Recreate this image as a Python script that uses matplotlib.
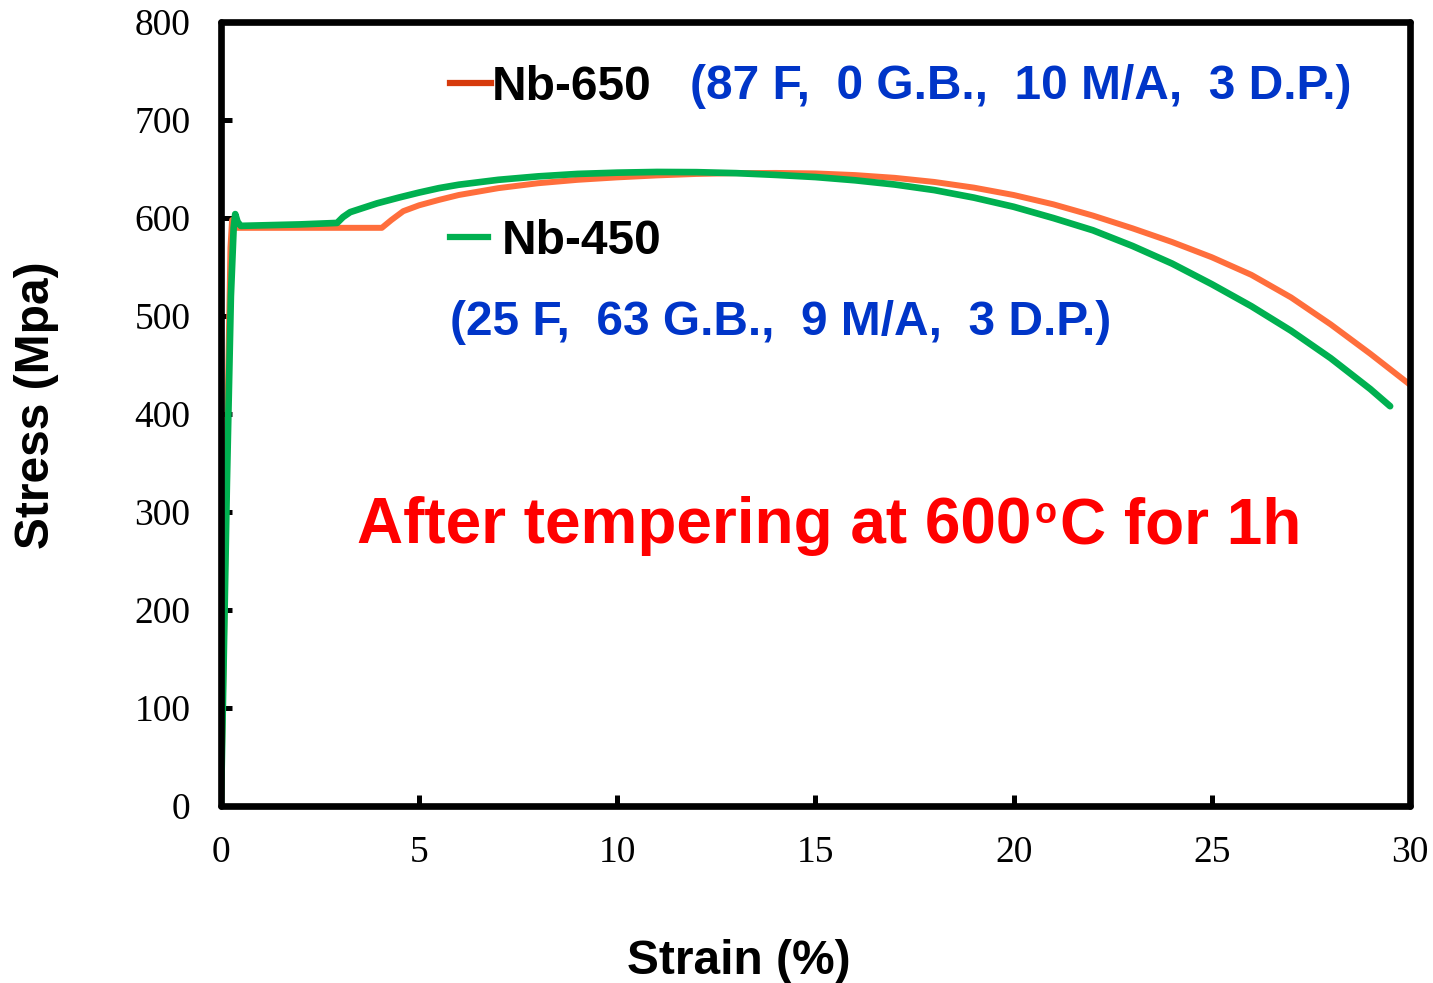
import matplotlib
matplotlib.use("Agg")
import matplotlib.pyplot as plt
from matplotlib.lines import Line2D

# ---- data ----
strain_650 = [0.0, 0.08, 0.16, 0.24, 0.28, 0.33, 1.0, 2.0, 3.0, 4.06, 4.3, 4.6, 5.0, 5.5, 6.0,
              7.0, 8.0, 9.0, 10.0, 11.0, 12.0, 13.0, 14.0, 15.0, 16.0, 17.0, 18.0, 19.0,
              20.0, 21.0, 22.0, 23.0, 24.0, 25.0, 26.0, 27.0, 28.0, 29.0, 30.0]
stress_650 = [0, 180, 390, 570, 598, 590, 590, 590, 590, 590, 598, 607, 613, 618.5, 623.5,
              630.5, 635.5, 639, 641.5, 643.5, 645, 645.8, 646, 645.5, 643.8, 641, 636.8, 631,
              623.5, 614, 602.5, 589.5, 575.5, 560, 542, 519, 491.5, 461.5, 430]

strain_450 = [0.0, 0.05, 0.15, 0.25, 0.32, 0.36, 0.42, 0.5, 1.0, 2.0, 2.93, 3.08, 3.26, 3.6,
              3.94, 4.5, 5.0, 5.5, 6.0, 7.0, 8.0, 9.0, 10.0, 11.0, 12.0, 13.0, 14.0, 15.0,
              16.0, 17.0, 18.0, 19.0, 20.0, 21.0, 22.0, 23.0, 24.0, 25.0, 26.0, 27.0, 28.0,
              29.0, 29.5]
stress_450 = [0, 108, 330, 520, 590, 604, 596, 592, 592.5, 593.5, 595, 601, 606, 610.5,
              615, 621, 626, 630.5, 634, 639, 642.5, 645, 646.3, 647, 646.8, 645.8, 644, 641.8,
              638.5, 634.2, 628.5, 620.8, 611.5, 600, 587.5, 571.5, 553.5, 532.5, 510, 485, 457,
              425.5, 408]

xticks = [0, 5, 10, 15, 20, 25, 30]
yticks = [0, 100, 200, 300, 400, 500, 600, 700, 800]

label_650 = "Nb-650"
label_450 = "Nb-450"
info_650 = "(87 F,  0 G.B.,  10 M/A,  3 D.P.)"
info_450 = "(25 F,  63 G.B.,  9 M/A,  3 D.P.)"
note_a = "After tempering at 600"
note_sup = "o"
note_b = "C for 1h"

c_650 = "#FF6E3C"
c_650_leg = "#D63A0C"
c_450 = "#00B050"
c_blue = "#0035C8"
c_red = "#FF0000"

fig = plt.figure(figsize=(14.33, 9.83), dpi=100)
ax = fig.add_axes([0.1542, 0.180, 0.8297, 0.7976])

ax.plot(strain_650, stress_650, color=c_650, lw=4.3, solid_capstyle='round', solid_joinstyle='round', zorder=3)
ax.plot(strain_450, stress_450, color=c_450, lw=4.8, solid_capstyle='round', solid_joinstyle='round', zorder=4)

ax.set_xlim(0, 30)
ax.set_ylim(0, 800)
ax.set_xticks(xticks)
ax.set_yticks(yticks)
ax.tick_params(direction='in', length=8, width=3.6, labelsize=27)
ax.tick_params(axis='y', pad=22)
ax.tick_params(axis='x', pad=21)
for lab in ax.get_xticklabels() + ax.get_yticklabels():
    lab.set_family('Liberation Serif')
for sp in ax.spines.values():
    sp.set_linewidth(4.8)
    sp.set_capstyle('round')
    sp.set_zorder(5)

ax.set_xlabel("Strain (%)", fontsize=34.5, fontweight='bold', family='Liberation Sans')
ax.set_ylabel("Stress (Mpa)", fontsize=34.5, fontweight='bold', family='Liberation Sans')
ax.xaxis.set_label_coords(0.4357, -0.198)
ax.xaxis.label.set_va('center')
ax.yaxis.set_label_coords(-0.155, 0.5115)
ax.yaxis.label.set_va('center')
ax.yaxis.label.set_ha('center')

lfont = {'family': 'Liberation Sans', 'weight': 'bold', 'size': 34.5}
h1 = Line2D([], [], color=c_650_leg, lw=4.5)
leg1 = ax.legend([h1], [label_650], loc='center left', bbox_to_anchor=(0.1926, 0.917),
                 frameon=False, prop=lfont, handlelength=0.85, handletextpad=0.02,
                 borderpad=0, borderaxespad=0)
ax.add_artist(leg1)
h2 = Line2D([], [], color=c_450, lw=4.5)
ax.legend([h2], [label_450], loc='center left', bbox_to_anchor=(0.1926, 0.7207),
          frameon=False, prop=lfont, handlelength=0.8, handletextpad=0.28,
          borderpad=0, borderaxespad=0)

ax.text(0.3944, 0.9024, info_650, transform=ax.transAxes, color=c_blue,
        fontsize=34.5, fontweight='bold', family='Liberation Sans', ha='left', va='baseline')
ax.text(0.1926, 0.6014, info_450, transform=ax.transAxes, color=c_blue,
        fontsize=34.5, fontweight='bold', family='Liberation Sans', ha='left', va='baseline')

red = dict(color=c_red, fontweight='bold', family='Liberation Sans')
ta = ax.text(0.1144, 0.3351, note_a, transform=ax.transAxes, fontsize=46,
             ha='left', va='baseline', **red)
ts = ax.annotate(note_sup, xy=(1, 0.361), xycoords=(ta, 'axes fraction'),
                 xytext=(2.5, 0), textcoords='offset points', fontsize=26,
                 ha='left', va='baseline', **red)
ax.annotate(note_b, xy=(1, 0.3351), xycoords=(ts, 'axes fraction'),
            xytext=(2.5, 0), textcoords='offset points', fontsize=46,
            ha='left', va='baseline', **red)

fig.savefig("out.png", dpi=100)
